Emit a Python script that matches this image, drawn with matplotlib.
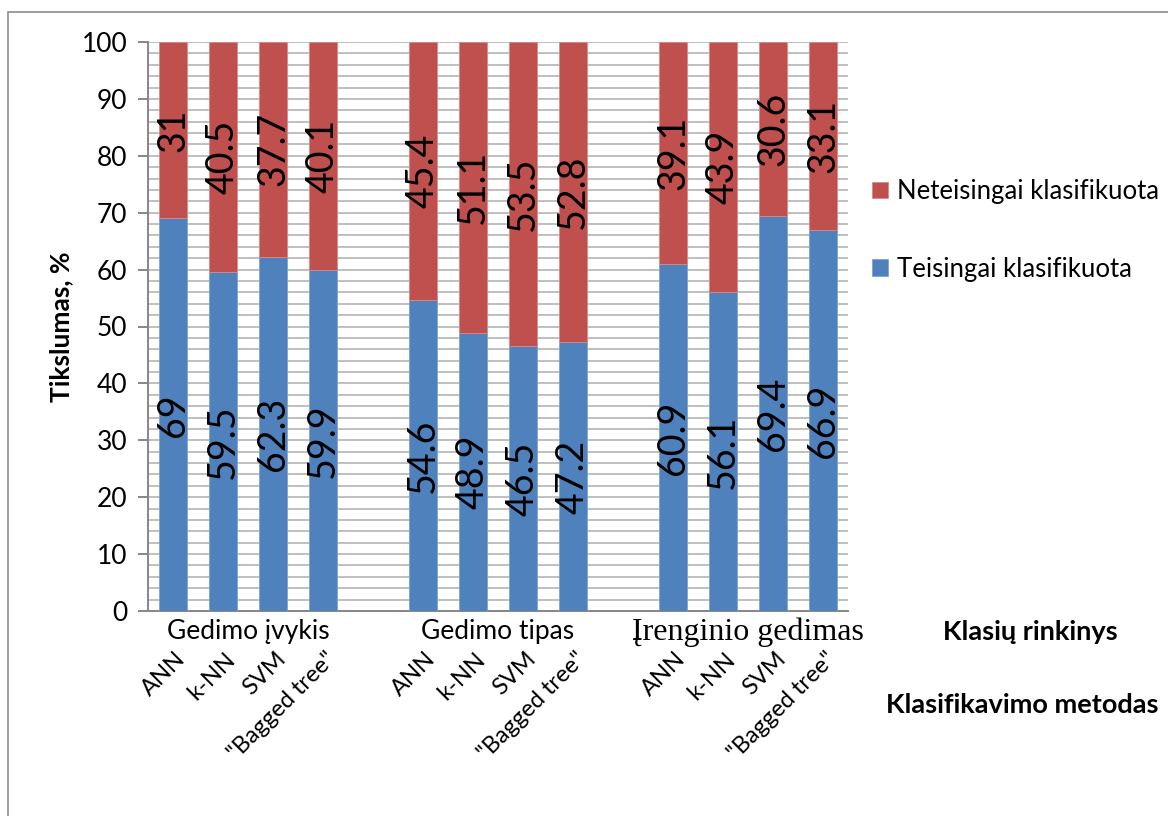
import matplotlib
matplotlib.use("Agg")
import matplotlib.pyplot as plt
import matplotlib.transforms as mtransforms
from matplotlib.patches import Rectangle
from matplotlib.ticker import MultipleLocator

groups = ["Gedimo įvykis", "Gedimo tipas", "Įrenginio gedimas"]
methods = ["ANN", "k-NN", "SVM", "\"Bagged tree\""]
correct = [[69, 59.5, 62.3, 59.9],
           [54.6, 48.9, 46.5, 47.2],
           [60.9, 56.1, 69.4, 66.9]]
incorrect = [[31, 40.5, 37.7, 40.1],
             [45.4, 51.1, 53.5, 52.8],
             [39.1, 43.9, 30.6, 33.1]]
label_correct = "Teisingai klasifikuota"
label_incorrect = "Neteisingai klasifikuota"

BLUE = "#4F81BD"
RED = "#C0504D"
FONT = ["Lato", "DejaVu Sans"]
plt.rcParams["font.family"] = FONT

fig = plt.figure(figsize=(11.68, 8.16), dpi=100)
ax = fig.add_axes([148/1168, 1-611/816, 700/1168, 569/816])

# positions: 4 bars per group, one empty slot between groups
xs, cvals, ivals, mlabels = [], [], [], []
for g in range(len(groups)):
    for m in range(len(methods)):
        xs.append(g*5 + m)
        cvals.append(correct[g][m])
        ivals.append(incorrect[g][m])
        mlabels.append(methods[m])

w = 0.56
b1 = ax.bar(xs, cvals, w, color=BLUE, edgecolor="#7FA3D0", linewidth=0.6,
            label=label_correct, zorder=3)
b2 = ax.bar(xs, ivals, w, bottom=cvals, color=RED, edgecolor="#D98A88",
            linewidth=0.6, label=label_incorrect, zorder=3)

for x, c, i in zip(xs, cvals, ivals):
    ax.text(x, c/2, f"{c:g}", rotation=90, ha="center", va="center",
            fontsize=27, color="black", zorder=4)
    ax.text(x, c + i/2, f"{i:g}", rotation=90, ha="center", va="center",
            fontsize=27, color="black", zorder=4)

ax.set_xlim(-0.5, 13.5)
ax.set_ylim(0, 100)
ax.yaxis.set_major_locator(MultipleLocator(10))
ax.yaxis.set_minor_locator(MultipleLocator(2))
ax.grid(which="both", axis="y", color="#BFBFBF", linewidth=1.4, zorder=0)
ax.set_axisbelow(True)
for s in ["top", "right"]:
    ax.spines[s].set_visible(False)
for s in ["left", "bottom"]:
    ax.spines[s].set_color("#868686")
    ax.spines[s].set_linewidth(1.4)
ax.tick_params(axis="y", which="major", length=7, width=1.4, color="#868686",
               labelsize=19, pad=8)
ax.tick_params(axis="y", which="minor", length=0)
ax.set_xticks(xs)
ax.set_xticklabels(mlabels, rotation=45, ha="right", rotation_mode="anchor",
                   fontsize=17)
ax.tick_params(axis="x", length=0, pad=27)
for lab in ax.get_xticklabels():
    lab.set_transform(lab.get_transform() + mtransforms.ScaledTranslation(2/100, 0, fig.dpi_scale_trans))

ax.set_ylabel("Tikslumas, %", fontsize=19, fontweight="bold", labelpad=6)

trans = mtransforms.blended_transform_factory(ax.transData, ax.transAxes)
for g, name in enumerate(groups):
    cx = g*5 + 1.5
    if g == 2:
        ax.text(cx, -21/569, name, transform=trans, ha="center", va="center",
                fontsize=23, family=["Liberation Serif", "DejaVu Serif"])
    else:
        ax.text(cx, -21/569, name, transform=trans, ha="center", va="center",
                fontsize=19)

fig.text(1030/1168, 1-632/816, "Klasių rinkinys", ha="center", va="center",
         fontsize=19.5, fontweight="bold")
fig.text(1022/1168, 1-705/816, "Klasifikavimo metodas", ha="center", va="center",
         fontsize=19.5, fontweight="bold")

leg = fig.legend(handles=[b2, b1], labels=[label_incorrect, label_correct],
                 loc="upper left", bbox_to_anchor=(872/1168, 1-179/816),
                 frameon=False, fontsize=18.5, labelspacing=2.05,
                 handlelength=0.62, handleheight=0.62, handletextpad=0.35,
                 borderaxespad=0, borderpad=0)

fig.patches.append(Rectangle((8/1168, -0.1), 1.2, 1-12/816+0.1,
                             transform=fig.transFigure, fill=False,
                             edgecolor="#8C8C8C", linewidth=1.2))

fig.savefig("out.png", dpi=100)
